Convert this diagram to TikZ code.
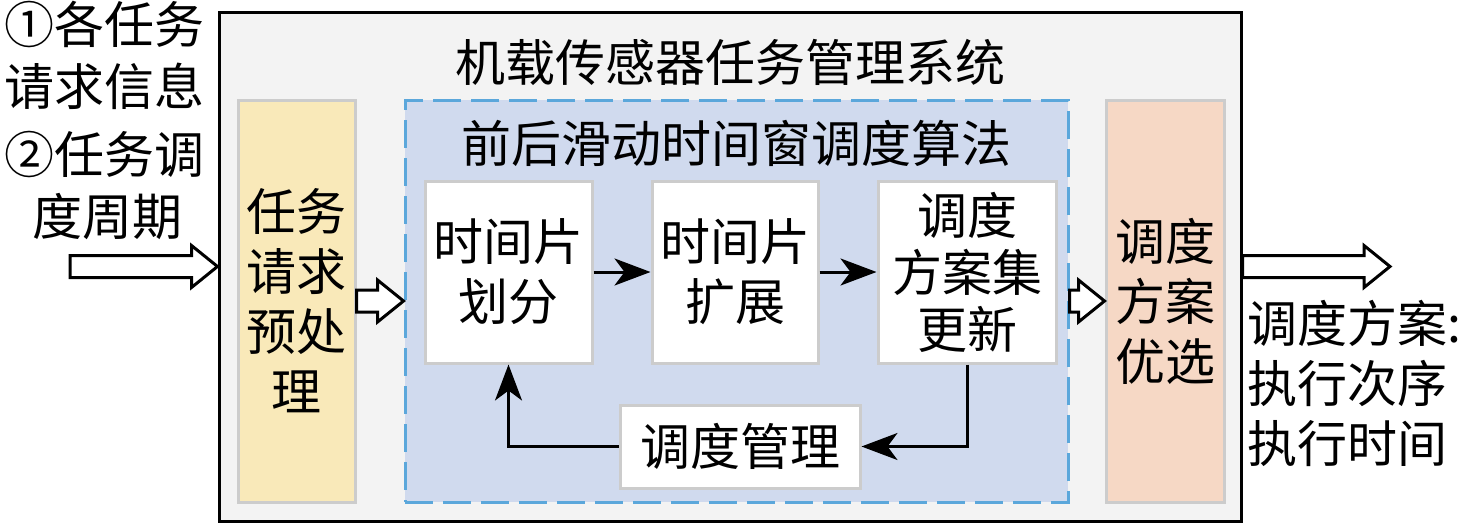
\documentclass[tikz,border=0pt]{standalone}
\usepackage{fontspec}
\setmainfont{Noto Sans CJK SC}
\usetikzlibrary{calc,arrows.meta}
\definecolor{sysgray}{RGB}{243,243,243}
\definecolor{boxgray}{RGB}{204,204,204}
\definecolor{preyellow}{RGB}{249,233,185}
\definecolor{optpeach}{RGB}{246,216,197}
\definecolor{algblue}{RGB}{208,218,238}
\definecolor{dashblue}{RGB}{91,167,219}
\def\lw{3pt}
\newcommand{\hollowarrow}[2]{%
  \draw[hollow] let \p1=(#1), \p2=(#2) in
    (\x1,\y1+11pt)--(\x2-26pt,\y1+11pt)--(\x2-26pt,\y1+21pt)--(\x2,\y1)
    --(\x2-26pt,\y1-21pt)--(\x2-26pt,\y1-11pt)--(\x1,\y1-11pt)--cycle;}
\begin{document}
\begin{tikzpicture}[x=1pt,y=-1pt,font=\fontsize{50pt}{60pt}\selectfont,
    colbox/.style={draw=boxgray,line width=\lw,minimum width=#1,minimum height=402pt,inner sep=0pt,align=center},
    whitebox/.style={draw=boxgray,fill=white,line width=\lw,inner sep=0pt,align=center},
    flow/.style={line width=\lw,-{Stealth[length=36pt,width=27pt,inset=10pt]}},
    hollow/.style={draw=black,fill=white,line width=\lw,line join=miter}]
    \useasboundingbox (0,0) rectangle (1476,525);
    \node[draw=black,fill=sysgray,line width=\lw,minimum width=1022pt,minimum height=509pt] (sys) at (730,266.5) {};
    \node (systitle) at (730,62) {机载传感器任务管理系统};
    \node[colbox=117pt,fill=preyellow] (pre) at (296.5,301) {任务\\请求\\预处\\理};
    \node[colbox=118pt,fill=optpeach] (opt) at (1165,301) {调度\\方案\\优选};
    \node[draw=dashblue,fill=algblue,line width=\lw,dash pattern=on 28pt off 10pt,minimum width=663pt,minimum height=402pt] (alg) at (736.5,301) {};
    \node (algtitle) at (736,143) {前后滑动时间窗调度算法};
    \node[whitebox,minimum width=167pt,minimum height=182pt] (divide) at (508.5,272) {时间片\\划分};
    \node[whitebox,minimum width=166pt,minimum height=182pt] (extend) at (735,272) {时间片\\扩展};
    \node[whitebox,minimum width=178pt,minimum height=182pt,font=\fontsize{50pt}{57pt}\selectfont] (update) at (967,272) {调度\\方案集\\更新};
    \node[whitebox,minimum width=240pt,minimum height=83pt] (manage) at (740,446.5) {调度管理};
    \draw[flow] (divide) -- (extend);
    \draw[flow] (extend) -- (update);
    \draw[flow] (update.south) |- (manage.east);
    \draw[flow] (manage.west) -| (divide.south);
    \coordinate (in) at (70,266.5);
    \coordinate (out) at (1390,266.5);
    \hollowarrow{in}{sys.west}
    \hollowarrow{pre.east}{alg.west}
    \hollowarrow{alg.east}{opt.west}
    \hollowarrow{sys.east}{out}
    \node[anchor=north west,inner sep=0pt,align=left,font=\fontsize{50pt}{62pt}\selectfont] (info) at (4,1) {①各任务\\请求信息\\[6pt]②任务调\\\hspace{28pt}度周期};
    \node[anchor=north west,inner sep=0pt,align=left] (result) at (1247,300) {调度方案:\\执行次序\\执行时间};
\end{tikzpicture}
\end{document}
